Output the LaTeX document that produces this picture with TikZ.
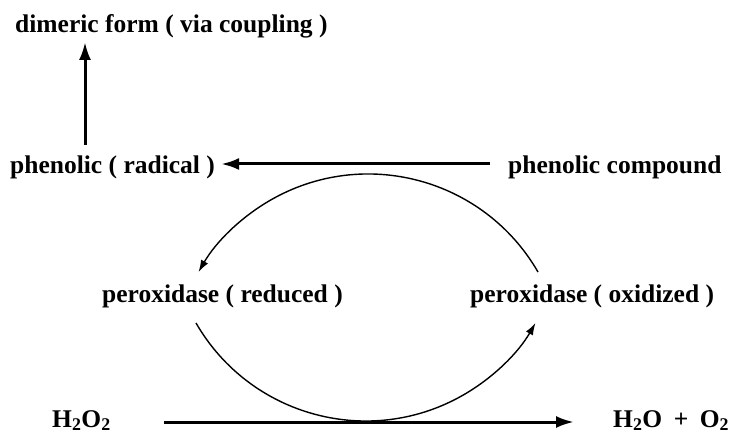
\documentclass[tikz,border=0pt]{standalone}
\usepackage{fontspec}
\setmainfont{Liberation Serif}
\usetikzlibrary{arrows.meta}

\begin{document}
\begin{tikzpicture}[
                            x=1pt, y=1pt,
                            every node/.style={inner sep=0pt, anchor=base west,
                                font=\bfseries\fontsize{25.5}{30}\selectfont},
                            heavy/.style={line width=3pt, -{Latex[length=18pt,width=12pt]}},
                            turn/.style={line width=1.4pt, -{Latex[length=12pt,width=8pt]}}
                        ]
                        \useasboundingbox (0,0) rectangle (731,434);
                        % Species
                        \node (dimer) at (15,401) {dimeric form ( via coupling )};
                        \node (radical) at (10,260) {phenolic ( radical )};
                        \node (phenol) at (508,260) {phenolic compound};
                        \node (red) at (102,131) {peroxidase ( reduced )};
                        \node (ox) at (470,131) {peroxidase ( oxidized )};
                        \node (perox) at (52,7) {H\textsubscript{2}O\textsubscript{2}};
                        \node (water) at (613,7) {H\textsubscript{2}O\hspace{0.45em}+\hspace{0.45em}O\textsubscript{2}};

                        % Connections
                        \draw [heavy] ([shift={(75pt,29pt)}]radical.base west) -- ([shift={(70pt,-9pt)}]dimer.base west);
                        \draw [heavy] ([shift={(-18pt,10pt)}]phenol.base west) -- ([shift={(6pt,10pt)}]radical.base east);
                        \draw [turn] ([shift={(68pt,31pt)}]ox.base west) arc[start angle=30, end angle=150, radius=196pt];
                        \draw [turn] ([shift={(94pt,-20pt)}]red.base west) arc[start angle=210, end angle=330, radius=196pt];
                        \draw [heavy] ([shift={(53pt,5pt)}]perox.base east) -- ([shift={(-39pt,5pt)}]water.base west);
                    \end{tikzpicture}
\end{document}
